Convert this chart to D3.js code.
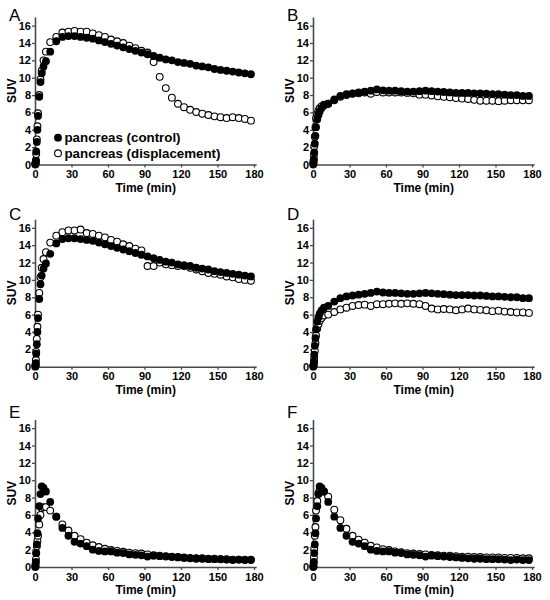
<!DOCTYPE html>
<html><head><meta charset="utf-8">
<script src="https://cdn.jsdelivr.net/npm/d3@7"></script>
<style>
html,body{margin:0;padding:0;background:#fff;}
text{font-family:Arial,"Liberation Sans",Helvetica,sans-serif;}
</style></head>
<body>
<svg id="chart" width="550" height="600"></svg>
<script>
// Frame mid-times (min)
const TIME = [0.25,0.5,0.75,1,1.5,2,2.5,3.5,4.5,5.5,7,9,
  12.5,17.5,22.5,27.5,32.5,37.5,42.5,47.5,52.5,57.5,62.5,67.5,72.5,77.5,82.5,87.5,
  92.5,97.5,102.5,107.5,112.5,117.5,122.5,127.5,132.5,137.5,142.5,147.5,152.5,157.5,
  162.5,167.5,172.5,177.5];

const PANEL_LABELS = ["A","B","C","D","E","F"];
const X_TICKS = [0,30,60,90,120,150,180];
const Y_TICKS = [0,2,4,6,8,10,12,14,16];
const LEGEND = ["pancreas (control)","pancreas (displacement)"];

// control series
const ctrlAC = [0.0,0.1,0.4,1.5,2.6,4.0,5.6,7.8,9.5,10.5,11.3,11.9,
  13.0,14.2,14.7,14.8,14.8,14.7,14.6,14.5,14.3,14.1,13.9,13.7,13.5,13.3,13.1,12.9,
  12.7,12.5,12.3,12.1,12.0,11.8,11.7,11.6,11.4,11.3,11.2,11.0,10.9,10.8,10.7,10.6,10.5,10.4];
const ctrlBD = [0.0,0.2,0.6,1.4,2.4,3.3,4.3,5.2,5.7,6.1,6.5,6.8,
  7.0,7.5,7.9,8.1,8.2,8.3,8.4,8.5,8.65,8.55,8.5,8.5,8.45,8.4,8.4,8.45,
  8.5,8.45,8.4,8.35,8.3,8.25,8.25,8.25,8.2,8.2,8.15,8.1,8.1,8.05,8.0,8.0,7.9,7.9];
const ctrlEF = [0.0,0.1,0.6,1.6,2.6,3.9,5.6,7.0,8.4,9.3,9.1,8.7,
  7.5,5.8,4.5,3.6,2.9,2.7,2.4,2.0,1.85,1.8,1.8,1.65,1.6,1.45,1.4,1.35,
  1.2,1.3,1.25,1.2,1.15,1.1,1.05,1.0,0.95,0.95,0.9,0.9,0.9,0.85,0.8,0.85,0.8,0.8];

// displacement series
const dispA = [0.1,0.2,0.5,1.2,2.9,4.4,5.9,8.0,9.8,10.8,12.0,13.0,
  14.1,14.7,15.2,15.3,15.4,15.3,15.3,15.1,14.9,14.7,14.4,14.2,14.0,13.7,13.4,13.1,
  12.9,11.8,10.1,8.8,7.7,7.0,6.6,6.3,6.05,5.85,5.7,5.55,5.45,5.35,5.45,5.35,5.25,5.05];
const dispB = [0.2,0.5,1.1,2.1,3.2,4.3,5.3,5.8,6.2,6.5,6.7,6.9,
  7.0,7.4,7.8,8.0,8.15,8.2,8.3,8.15,8.35,8.3,8.3,8.3,8.3,8.25,8.2,8.05,
  8.05,7.95,7.85,7.8,7.75,7.65,7.6,7.55,7.45,7.35,7.35,7.35,7.3,7.35,7.4,7.4,7.4,7.4];
const dispC = [0.1,0.3,0.8,1.7,3.2,4.6,6.0,8.5,10.3,11.4,12.4,13.2,
  14.3,15.1,15.5,15.7,15.7,15.8,15.4,15.3,15.1,14.9,14.6,14.4,14.1,13.9,13.6,13.4,
  11.6,11.6,12.0,11.8,11.7,11.6,11.6,11.4,11.2,11.0,10.8,10.7,10.6,10.4,10.3,10.1,10.0,9.9];
const dispD = [0.1,0.2,0.5,1.0,1.8,2.7,3.6,4.4,4.9,5.3,5.6,5.9,
  6.0,6.3,6.6,6.8,7.0,7.1,7.15,7.0,7.2,7.2,7.25,7.3,7.25,7.3,7.25,7.2,
  7.0,6.7,6.6,6.65,6.6,6.5,6.6,6.7,6.6,6.55,6.5,6.4,6.45,6.35,6.3,6.25,6.25,6.2];
const dispE = [0.1,0.4,0.9,1.6,2.4,3.0,3.6,4.9,6.0,6.8,6.9,6.9,
  6.5,5.8,4.9,4.2,3.6,3.2,2.8,2.5,2.3,2.1,1.95,1.85,1.75,1.65,1.6,1.55,
  1.45,1.35,1.3,1.25,1.2,1.15,1.1,1.05,1.0,1.0,0.95,0.95,0.9,0.9,0.85,0.85,0.85,0.85];
const dispF = [0.1,0.5,1.1,2.1,3.6,4.6,6.5,7.6,8.5,8.9,8.9,8.7,
  8.1,6.6,5.4,4.4,3.6,3.15,2.8,2.45,2.25,2.05,1.95,1.8,1.7,1.6,1.55,1.5,
  1.45,1.4,1.35,1.3,1.3,1.25,1.2,1.2,1.15,1.15,1.1,1.1,1.1,1.05,1.05,1.05,1.0,1.0];

const CONTROL = [ctrlAC, ctrlBD, ctrlAC, ctrlBD, ctrlEF, ctrlEF];
const DISPLACE = [dispA, dispB, dispC, dispD, dispE, dispF];

// layout
const COL_X = [35, 313];
const ROW_Y0 = [164.5, 366.7, 567];
const LABEL_BASE = [21, 220, 418];
const PX_PER_MIN = 219/180;
const PX_PER_UNIT = 8.68;
const XMAX = 181.8, YMAX = 17;
const R_FILL = 3.9, R_OPEN = 3.4;
const AXIS_COLOR = "#4a4a4a";

const svg = d3.select("#chart");

PANEL_LABELS.forEach((lab, i) => {
  const col = i % 2, row = Math.floor(i / 2);
  const x0 = COL_X[col], y0 = ROW_Y0[row];
  const x = d3.scaleLinear().domain([0, XMAX]).range([x0, x0 + XMAX * PX_PER_MIN]);
  const y = d3.scaleLinear().domain([0, YMAX]).range([y0, y0 - YMAX * PX_PER_UNIT]);
  const g = svg.append("g");

  // axes
  const xa = g.append("g").attr("transform", `translate(0,${y0})`)
    .call(d3.axisBottom(x).tickValues(X_TICKS).tickSize(3).tickSizeOuter(0).tickPadding(3));
  const ya = g.append("g").attr("transform", `translate(${x0},0)`)
    .call(d3.axisLeft(y).tickValues(Y_TICKS).tickSize(3).tickSizeOuter(0).tickPadding(1));
  [xa, ya].forEach(a => {
    a.select(".domain").attr("stroke", AXIS_COLOR).attr("stroke-width", 1.6);
    a.selectAll(".tick line").attr("stroke", AXIS_COLOR).attr("stroke-width", 1.3);
    a.selectAll(".tick text").attr("fill", "#000").style("font-size", "11px")
      .style("font-weight", "bold").style("font-family", "Arial, 'Liberation Sans', sans-serif");
  });

  // axis titles
  g.append("text").attr("x", x(91)).attr("y", y0 + 27).attr("text-anchor", "middle")
    .style("font-size", "12px").style("font-weight", "bold").text("Time (min)");
  g.append("text").attr("transform", `translate(${x0 - 19},${y(8.5)}) rotate(-90)`)
    .attr("text-anchor", "middle").style("font-size", "12px").style("font-weight", "bold").text("SUV");

  // panel letter
  g.append("text").attr("x", x0 - 26).attr("y", LABEL_BASE[row])
    .style("font-size", "17px").text(lab);

  // data: open (displacement) first, filled (control) on top
  g.append("g").selectAll("circle").data(DISPLACE[i]).join("circle")
    .attr("cx", (d, k) => x(TIME[k])).attr("cy", d => y(d)).attr("r", R_OPEN)
    .attr("fill", "#fff").attr("stroke", "#000").attr("stroke-width", 1.1);
  g.append("g").selectAll("circle").data(CONTROL[i]).join("circle")
    .attr("cx", (d, k) => x(TIME[k])).attr("cy", d => y(d)).attr("r", R_FILL)
    .attr("fill", "#000");

  if (i === 0) {
    const lg = g.append("g");
    const items = [{t: LEGEND[0], filled: true, cy: 137.7}, {t: LEGEND[1], filled: false, cy: 153.3}];
    items.forEach(it => {
      lg.append("circle").attr("cx", 58).attr("cy", it.cy).attr("r", it.filled ? R_FILL : R_OPEN)
        .attr("fill", it.filled ? "#000" : "#fff").attr("stroke", it.filled ? "none" : "#000").attr("stroke-width", 1.1);
      lg.append("text").attr("x", 64.5).attr("y", it.cy + 4.6)
        .style("font-size", "13.3px").style("font-weight", "bold").text(it.t);
    });
  }
});
</script>
</body></html>
